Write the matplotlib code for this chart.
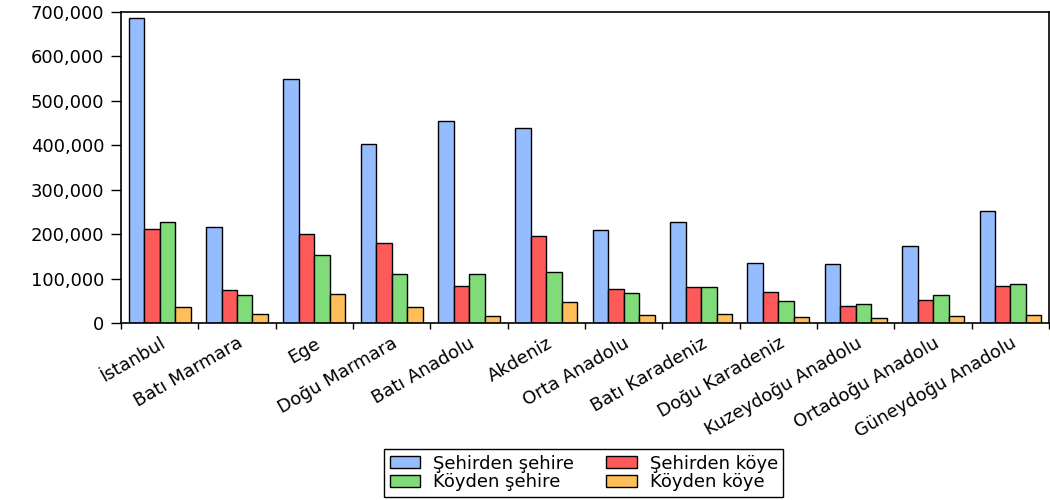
import matplotlib.pyplot as plt
import numpy as np
from matplotlib.ticker import FuncFormatter

plt.rcParams['font.family'] = ['DejaVu Sans']

regions = ['İstanbul', 'Batı Marmara', 'Ege', 'Doğu Marmara', 'Batı Anadolu', 'Akdeniz',
           'Orta Anadolu', 'Batı Karadeniz', 'Doğu Karadeniz', 'Kuzeydoğu Anadolu',
           'Ortadoğu Anadolu', 'Güneydoğu Anadolu']

sehir_sehir = [687000, 215000, 550000, 403000, 455000, 439000, 210000, 227000, 134000, 132000, 173000, 251000]
sehir_koy = [211000, 74000, 200000, 180000, 83000, 196000, 77000, 82000, 69000, 38000, 52000, 83000]
koy_sehir = [228000, 62000, 153000, 110000, 111000, 114000, 68000, 80000, 49000, 43000, 63000, 87000]
koy_koy = [36000, 20000, 66000, 36000, 16000, 48000, 17000, 20000, 13000, 11000, 15000, 19000]

series = [sehir_sehir, sehir_koy, koy_sehir, koy_koy]
labels = ['Şehirden şehire', 'Şehirden köye', 'Köyden şehire', 'Köyden köye']
colors = ['#94BCFF', '#FF5A5A', '#80DC78', '#FFBE5A']

fig = plt.figure(figsize=(10.5, 5), dpi=100)
ax = fig.add_axes([0.1152, 0.354, 0.884, 0.622])

x = np.arange(len(regions))
w = 0.2
handles = []
for i, (vals, lab, col) in enumerate(zip(series, labels, colors)):
    b = ax.bar(x - 0.3 + i * w, vals, w, color=col, edgecolor='black', linewidth=1.0, label=lab)
    handles.append(b)

ax.set_xlim(-0.5, len(regions) - 0.5)
ax.set_ylim(0, 700000)
ax.set_yticks(np.arange(0, 700001, 100000))
ax.yaxis.set_major_formatter(FuncFormatter(lambda v, p: f'{int(v):,}'))
ax.tick_params(axis='y', direction='out', length=7, width=1, labelsize=13, pad=5)

ax.set_xticks(np.arange(-0.5, len(regions), 1.0))
ax.set_xticklabels([])
ax.set_xticks(x, minor=True)
ax.set_xticklabels(regions, minor=True, rotation=30, ha='right', rotation_mode='anchor', fontsize=13)
ax.tick_params(axis='x', which='major', direction='out', length=4.5, width=1)
ax.tick_params(axis='x', which='minor', length=0, pad=8)

for s in ax.spines.values():
    s.set_linewidth(1.2)

# legend fills column-wise, so order for rows: [ss, sk] / [ks, kk]
order = [0, 2, 1, 3]
fig.legend(handles=[handles[i] for i in order], labels=[labels[i] for i in order], ncol=2,
           loc='center', bbox_to_anchor=(0.556, 0.054),
           fontsize=13, frameon=True, fancybox=False, edgecolor='black', framealpha=1,
           handlelength=1.7, handleheight=0.65, columnspacing=1.8, borderpad=0.3,
           labelspacing=0.05, handletextpad=0.7, borderaxespad=0.2)

fig.savefig('out.png', dpi=100)
